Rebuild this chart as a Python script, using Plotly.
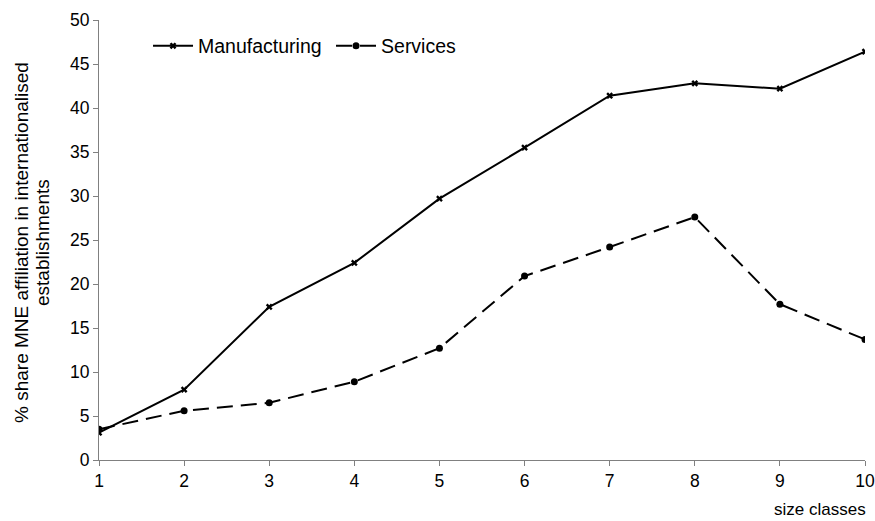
import plotly.graph_objects as go

size_classes = [1, 2, 3, 4, 5, 6, 7, 8, 9, 10]
manufacturing = [3.1, 8.0, 17.4, 22.4, 29.7, 35.5, 41.4, 42.8, 42.2, 46.4]
services = [3.5, 5.6, 6.5, 8.9, 12.7, 20.9, 24.2, 27.6, 17.7, 13.7]
y_ticks = [0, 5, 10, 15, 20, 25, 30, 35, 40, 45, 50]
y_title_lines = ["% share MNE affiliation in internationalised", "establishments"]
x_title = "size classes"

FONT = "Liberation Sans, Arial, sans-serif"
L, R, T, B = 99, 10, 20, 61
W, H = 875, 521
PW, PH = W - L - R, H - T - B

fig = go.Figure()
fig.add_trace(go.Scatter(
    x=size_classes, y=manufacturing, name="Manufacturing", mode="lines+markers",
    line=dict(color="black", width=2),
    marker=dict(symbol="x", size=6, color="black"),
))
fig.add_trace(go.Scatter(
    x=size_classes, y=services, name="Services", mode="lines+markers",
    line=dict(color="black", width=2, dash="16px,8px"),
    marker=dict(symbol="circle", size=7, color="black"),
))

annotations = [
    dict(text=y_title_lines[0], xref="paper", yref="paper",
         x=(21 - L) / PW, y=(T + PH - 243) / PH, textangle=-90,
         xanchor="center", yanchor="middle", showarrow=False,
         font=dict(family=FONT, size=19, color="black")),
    dict(text=y_title_lines[1], xref="paper", yref="paper",
         x=(42 - L) / PW, y=(T + PH - 243) / PH, textangle=-90,
         xanchor="center", yanchor="middle", showarrow=False,
         font=dict(family=FONT, size=19, color="black")),
    dict(text=x_title, xref="paper", yref="paper",
         x=(820 - L) / PW, y=-(510 - (T + PH)) / PH,
         xanchor="center", yanchor="middle", showarrow=False,
         font=dict(family=FONT, size=17, color="black")),
]

fig.update_layout(
    width=W, height=H,
    margin=dict(l=L, r=R, t=T, b=B, autoexpand=False),
    paper_bgcolor="white", plot_bgcolor="white",
    font=dict(family=FONT, size=17, color="black"),
    showlegend=True,
    legend=dict(orientation="h", x=0.064, y=0.985, xanchor="left", yanchor="top",
                bgcolor="rgba(0,0,0,0)", font=dict(size=19.5), itemwidth=40,
                entrywidth=128, entrywidthmode="pixels"),
    xaxis=dict(range=[1, 10], tickvals=size_classes, showgrid=False, zeroline=False,
               showline=True, linecolor="#808080", linewidth=1,
               ticks="outside", ticklen=5, tickcolor="#808080",
               tickfont=dict(size=17.5), automargin=False),
    yaxis=dict(range=[0, 50], tickvals=y_ticks, showgrid=False, zeroline=False,
               showline=True, linecolor="#808080", linewidth=1,
               ticks="outside", ticklen=5, tickcolor="#808080",
               tickfont=dict(size=17.5), automargin=False),
    annotations=annotations,
)

fig.write_html("out.html", config={"displayModeBar": False},
               post_script="document.body.style.margin='0';document.body.style.overflow='hidden';")
